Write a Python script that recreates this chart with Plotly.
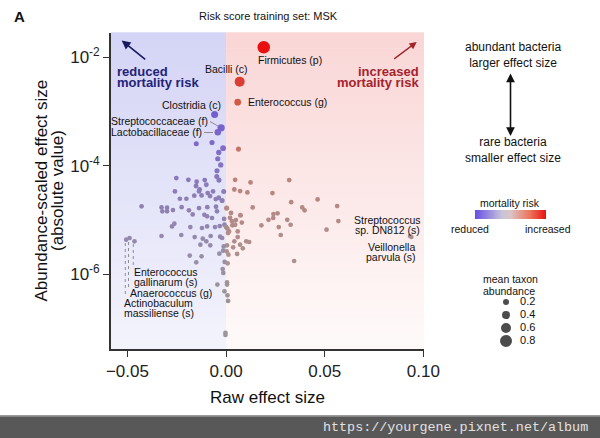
import numpy as np
import plotly.graph_objects as go

# ---------------- data ----------------
label_names = ["Firmicutes (p)", "Bacilli (c)", "Enterococcus (g)", "Clostridia (c)",
               "Streptococcaceae (f)", "Lactobacillaceae (f)", "Streptococcus sp. DN812 (s)",
               "Veillonella parvula (s)", "Enterococcus gallinarum (s)", "Anaerococcus (g)",
               "Actinobaculum massiliense (s)"]
label_x = [0.0191, 0.0069, 0.0059, -0.0058, -0.0025, -0.0042, 0.0932, 0.0939, -0.0464, -0.0489, -0.0506]
label_y = [1.53e-2, 3.56e-3, 1.49e-3, 8.81e-4, 5.01e-4, 4.17e-4, 5.08e-6, 4.86e-6, 4.05e-6, 4.67e-6, 4.35e-6]
label_abund = [0.80, 0.55, 0.22, 0.25, 0.28, 0.20, 0.01, 0.01, 0.02, 0.02, 0.02]

other_x = [-0.0151, -0.0071, -0.0015, 0.0063, -0.0037, -0.0042, -0.0027, -0.0046, -0.0047, -0.0036,
           -0.0252, -0.0191, -0.0149, -0.0108, 0.0046, 0.0124, 0.0320, -0.0259, -0.0152, -0.0134,
           -0.0137, -0.0100, -0.0093, -0.0066, -0.0012, 0.0042, 0.0071, 0.0108, 0.0235, -0.0161,
           -0.0234, -0.0201, -0.0124, -0.0081, -0.0052, -0.0037, -0.0020, 0.0464, 0.0330, -0.0428,
           -0.0327, -0.0299, -0.0269, -0.0323, -0.0299, -0.0225, -0.0188, -0.0169, -0.0137, -0.0095,
           -0.0051, -0.0046, 0.0003, -0.0110, -0.0096, -0.0071, 0.0073, 0.0135, 0.0240, 0.0239,
           0.0261, 0.0386, 0.0398, 0.0563, 0.0569, 0.0215, 0.0310, 0.0327, 0.0179, 0.0267,
           0.0509, 0.0277, -0.0274, -0.0262, -0.0327, -0.0227, -0.0181, -0.0159, -0.0122, -0.0096,
           -0.0056, -0.0032, -0.0008, 0.0000, 0.0007, 0.0015, 0.0032, 0.0046, 0.0010, -0.0078,
           -0.0030, -0.0020, 0.0059, 0.0059, 0.0042, 0.0102, 0.0117, 0.0071, 0.0085, 0.0036,
           0.0005, -0.0012, -0.0130, -0.0100, -0.0118, -0.0080, -0.0184, -0.0151, -0.0124, -0.0034,
           -0.0015, 0.0003, 0.0012, 0.0056, -0.0007, 0.0008, 0.0345, -0.0017, -0.0014, 0.0005,
           0.0005, -0.0044, -0.0008, 0.0007, 0.0010, -0.0003, -0.0003, 0.0020, 0.0030, -0.0010,
           0.0050, 0.0080, 0.0025]
other_y = [2.54e-4, 2.69e-4, 2.11e-4, 2.03e-4, 1.76e-4, 1.35e-4, 1.04e-4, 8.09e-5, 6.37e-5, 5.45e-5,
           5.93e-5, 5.52e-5, 5.08e-5, 5.45e-5, 5.52e-5, 4.93e-5, 5.45e-5, 3.37e-5, 4.23e-5, 3.66e-5,
           3.37e-5, 4.47e-5, 3.14e-5, 3.37e-5, 3.37e-5, 3.66e-5, 3.42e-5, 3.23e-5, 3.14e-5, 2.81e-5,
           2.47e-5, 2.47e-5, 2.84e-5, 2.77e-5, 2.44e-5, 2.58e-5, 2.30e-5, 2.40e-5, 2.14e-5, 1.79e-5,
           1.71e-5, 1.69e-5, 1.53e-5, 1.45e-5, 1.45e-5, 1.73e-5, 1.51e-5, 1.27e-5, 1.66e-5, 1.73e-5,
           1.76e-5, 1.45e-5, 1.66e-5, 1.25e-5, 1.17e-5, 1.09e-5, 1.22e-5, 1.71e-5, 1.29e-5, 1.09e-5,
           1.33e-5, 1.71e-5, 1.51e-5, 1.81e-5, 9.59e-6, 1.01e-5, 1.01e-5, 8.20e-6, 7.98e-6, 7.43e-6,
           6.64e-6, 5.30e-6, 7.64e-6, 8.57e-6, 5.08e-6, 5.30e-6, 7.43e-6, 4.86e-6, 7.13e-6, 7.64e-6,
           7.43e-6, 7.76e-6, 8.20e-6, 7.43e-6, 6.92e-6, 6.18e-6, 7.98e-6, 8.20e-6, 5.77e-6, 5.08e-6,
           4.93e-6, 4.67e-6, 6.18e-6, 4.86e-6, 4.05e-6, 4.05e-6, 3.94e-6, 3.52e-6, 3.01e-6, 3.14e-6,
           3.42e-6, 3.27e-6, 3.52e-6, 4.05e-6, 4.53e-6, 3.42e-6, 2.21e-6, 1.66e-6, 2.14e-6, 2.40e-6,
           2.73e-6, 2.65e-6, 2.30e-6, 2.37e-6, 1.69e-6, 1.59e-6, 1.76e-6, 1.25e-6, 1.06e-6, 7.13e-7,
           6.46e-7, 6.46e-7, 4.86e-7, 4.10e-7, 3.23e-7, 8.32e-8, 7.60e-8, 1.10e-5, 9.50e-6, 1.05e-5,
           1.00e-5, 9.00e-6, 1.35e-5]
other_abund = [0.05, 0.06, 0.12, 0.06, 0.08, 0.07, 0.08, 0.06, 0.05, 0.06,
               0.03, 0.03, 0.03, 0.03, 0.03, 0.03, 0.03, 0.03, 0.04, 0.04,
               0.03, 0.03, 0.04, 0.03, 0.05, 0.03, 0.03, 0.03, 0.02, 0.03,
               0.02, 0.02, 0.03, 0.03, 0.03, 0.04, 0.06, 0.02, 0.02, 0.02,
               0.02, 0.02, 0.02, 0.02, 0.02, 0.02, 0.02, 0.02, 0.03, 0.03,
               0.03, 0.03, 0.07, 0.02, 0.02, 0.02, 0.05, 0.02, 0.02, 0.02,
               0.02, 0.02, 0.02, 0.02, 0.02, 0.02, 0.02, 0.02, 0.02, 0.02,
               0.02, 0.02, 0.02, 0.02, 0.02, 0.02, 0.02, 0.02, 0.02, 0.02,
               0.02, 0.03, 0.04, 0.04, 0.03, 0.03, 0.03, 0.03, 0.03, 0.02,
               0.02, 0.02, 0.03, 0.03, 0.02, 0.02, 0.02, 0.02, 0.02, 0.02,
               0.02, 0.02, 0.02, 0.02, 0.02, 0.02, 0.02, 0.02, 0.02, 0.02,
               0.02, 0.02, 0.02, 0.02, 0.02, 0.02, 0.02, 0.02, 0.02, 0.02,
               0.02, 0.02, 0.02, 0.02, 0.02, 0.02, 0.02, 0.03, 0.03, 0.03,
               0.02, 0.02, 0.03]

size_legend_values = [0.2, 0.4, 0.6, 0.8]
risk_bar_levels = [i / 50 - 1 for i in range(101)]  # colour-key gradient steps, reduced -> increased
x_tick_vals = [-0.05, 0.0, 0.05, 0.10]
x_tick_text = ["\u22120.05", "0.00", "0.05", "0.10"]
y_tick_vals = [1e-6, 1e-4, 1e-2]
y_tick_text = ["10<sup>-6</sup>", "10<sup>-4</sup>", "10<sup>-2</sup>"]

# ---------------- geometry helpers ----------------
W, H = 600, 438
L, R, T, B = 111, 424, 33, 349
PW = W - L


def pxx(x):
    return (x - L) / PW


def pyy(y):
    return (B - y) / (B - T)


FONT = "Arial, Liberation Sans, Helvetica, sans-serif"

all_x = np.array(other_x + label_x)
all_y = np.array(other_y + label_y)
all_a = np.array(other_abund + label_abund)

t = np.clip((np.log10(all_y) + 6.5) / 4.7, 0, 1) ** 1.2
cval = np.sign(all_x) * t
sizes = 4.5 + 10 * all_a

point_scale = [[0.0, 'rgb(95,60,225)'], [0.15, 'rgb(115,92,208)'], [0.3, 'rgb(138,122,186)'],
               [0.45, 'rgb(152,144,166)'], [0.5, 'rgb(156,148,152)'], [0.55, 'rgb(170,146,146)'],
               [0.7, 'rgb(186,132,126)'], [0.85, 'rgb(208,100,80)'], [1.0, 'rgb(235,15,15)']]
bar_scale = [[0.0, 'rgb(105,80,228)'], [0.38, 'rgb(200,196,218)'], [0.5, 'rgb(218,196,196)'],
             [0.78, 'rgb(236,115,90)'], [1.0, 'rgb(232,20,20)']]

fig = go.Figure()

fig.add_trace(go.Scatter(
    x=all_x, y=all_y, mode="markers", hoverinfo="skip",
    marker=dict(size=sizes, color=cval, colorscale=point_scale, cmin=-1, cmax=1,
                line=dict(width=0), opacity=1, showscale=False),
    showlegend=False))

# colour key (mortality risk)
fig.add_trace(go.Heatmap(
    z=[risk_bar_levels], x=list(range(len(risk_bar_levels))), y=[0], xaxis="x3", yaxis="y3",
    colorscale=bar_scale, zmin=-1, zmax=1, showscale=False, hoverinfo="skip"))

# size legend
fig.add_trace(go.Scatter(
    x=[0.229] * 4, y=size_legend_values, xaxis="x2", yaxis="y2", mode="markers",
    marker=dict(size=[4 + 10 * v for v in size_legend_values], color="black", line=dict(width=0)),
    showlegend=False, hoverinfo="skip"))
fig.add_trace(go.Scatter(
    x=[0.43] * 4, y=size_legend_values, xaxis="x2", yaxis="y2", mode="text",
    text=[str(v) for v in size_legend_values], textposition="middle right",
    textfont=dict(size=11, color="#111", family=FONT), showlegend=False, hoverinfo="skip"))

# ---------------- background gradient ----------------
shapes = []
N = 40
for i in range(N):
    f = (i + 0.5) / N  # 0 bottom, 1 top
    b = (int(244 - 32 * f), int(244 - 32 * f), int(253 - 7 * f))
    r = (int(255 - 5 * f), int(251 - 37 * f), int(251 - 37 * f))
    shapes.append(dict(type="rect", xref="x", yref="paper", x0=-0.0583, x1=0.0,
                       y0=i / N * pyy(T), y1=(i + 1) / N * pyy(T) + 0.002,
                       fillcolor="rgb(%d,%d,%d)" % b, line=dict(width=0), layer="below"))
    shapes.append(dict(type="rect", xref="x", yref="paper", x0=0.0, x1=0.1003,
                       y0=i / N * pyy(T), y1=(i + 1) / N * pyy(T) + 0.002,
                       fillcolor="rgb(%d,%d,%d)" % r, line=dict(width=0), layer="below"))


def seg(x0, y0, x1, y1, color="#777", width=0.8, dash="solid"):
    shapes.append(dict(type="line", xref="paper", yref="paper", x0=pxx(x0), y0=pyy(y0),
                       x1=pxx(x1), y1=pyy(y1), line=dict(color=color, width=width, dash=dash)))


# leader lines
seg(210, 121.5, 218, 126)
seg(204, 132.5, 213, 132.5)
seg(125.3, 243, 125.3, 297, dash="dot", width=0.8)
seg(128.5, 242, 128.5, 288, dash="dot", width=0.8)
seg(133.3, 244, 133.3, 266, dash="dot", width=0.8)

# footer
shapes.append(dict(type="rect", xref="paper", yref="paper", x0=pxx(0), x1=pxx(600),
                   y0=pyy(438), y1=pyy(415.5), fillcolor="rgb(88,88,88)", line=dict(width=0)))
seg(0, 416, 600, 416, color="rgb(150,150,150)", width=1.5)

# ---------------- annotations ----------------
anns = []


def ann(text, x, y, size=10.5, xanchor="center", color="#111", bold=False, angle=0, yanchor="middle", family=FONT):
    anns.append(dict(text=("<b>%s</b>" % text) if bold else text, x=pxx(x), y=pyy(y), xref="paper",
                     yref="paper", showarrow=False, xanchor=xanchor, yanchor=yanchor,
                     textangle=angle, font=dict(size=size, color=color, family=family)))


ann("A", 19, 17, size=15, bold=True)
ann("Risk score training set: MSK", 268, 16, size=11)
ann("Abundance-scaled effect size", 40.5, 191, size=17, angle=-90)
ann("(absolute value)", 57, 191, size=17, angle=-90)
ann("Raw effect size", 267.5, 397, size=17)

ann("reduced", 115, 71.5, size=13, xanchor="left", bold=True, color="rgb(35,35,120)")
ann("mortality risk", 115, 83, size=13, xanchor="left", bold=True, color="rgb(35,35,120)")
ann("increased", 421, 71.5, size=13, xanchor="right", bold=True, color="rgb(165,35,45)")
ann("mortality risk", 421, 83, size=13, xanchor="right", bold=True, color="rgb(165,35,45)")

ann("Firmicutes (p)", 289.5, 59.5)
ann("Bacilli (c)", 226.7, 68.5)
ann("Enterococcus (g)", 245.5, 102.5, xanchor="left")
ann("Clostridia (c)", 191.2, 105)
ann("Streptococcaceae (f)", 209.5, 121, xanchor="right")
ann("Lactobacillaceae (f)", 203.8, 132.3, xanchor="right")
ann("Streptococcus", 422.5, 220, xanchor="right")
ann("sp. DN812 (s)", 422, 230, xanchor="right")
ann("Veillonella", 391, 246.7)
ann("parvula (s)", 391.3, 256.7)
ann("Enterococcus", 131.5, 271.7, xanchor="left")
ann("gallinarum (s)", 131.5, 281.7, xanchor="left")
ann("Anaerococcus (g)", 128.3, 293, xanchor="left")
ann("Actinobaculum", 122.3, 303.3, xanchor="left")
ann("massiliense (s)", 122.3, 313.3, xanchor="left")

ann("abundant bacteria<br>larger effect size", 513, 54.5, size=12)
ann("rare bacteria<br>smaller effect size", 513, 149.5, size=12)
ann("mortality risk", 509.5, 203, size=10.5)
ann("reduced", 469.5, 228.5, size=10.5)
ann("increased", 548.3, 228.5, size=10.5)
ann("mean taxon", 510, 279, size=10.5)
ann("abundance", 509, 290.7, size=10.5)

ann("https://yourgene.pixnet.net/album", 589.5, 427, size=13.4, xanchor="right",
    color="rgb(225,225,225)", family="Liberation Mono, DejaVu Sans Mono, monospace")

# arrows
anns.append(dict(x=pxx(121.7), y=pyy(40.5), xref="paper", yref="paper", ax=25, ay=20,
                 showarrow=True, arrowhead=2, arrowsize=1.1, arrowwidth=1.6,
                 arrowcolor="rgb(25,25,95)", text=""))
anns.append(dict(x=pxx(416.7), y=pyy(42), xref="paper", yref="paper", ax=-24, ay=18,
                 showarrow=True, arrowhead=2, arrowsize=1.1, arrowwidth=1.3,
                 arrowcolor="rgb(160,35,40)", text=""))
anns.append(dict(x=pxx(510.5), y=pyy(136), xref="paper", yref="paper", ax=0, ay=-64,
                 showarrow=True, arrowhead=2, startarrowhead=2, arrowside="end+start",
                 arrowsize=1.1, arrowwidth=1.6, arrowcolor="#111", text=""))

# ---------------- layout ----------------
fig.update_layout(
    width=W, height=H,
    margin=dict(l=L, r=0, t=T, b=H - B, pad=0, autoexpand=False),
    paper_bgcolor="white", plot_bgcolor="white",
    font=dict(family=FONT, color="#222"),
    showlegend=False,
    shapes=shapes, annotations=anns,
    xaxis=dict(domain=[0, (R - L) / PW], range=[-0.0583, 0.1003], tickvals=x_tick_vals,
               ticktext=x_tick_text, showgrid=False, zeroline=False, showline=True,
               linecolor="#333", linewidth=1.8, ticks="outside", ticklen=6, tickwidth=1.3,
               tickcolor="#333", tickfont=dict(size=17, color="#222", family=FONT),
               automargin=False, anchor="y"),
    yaxis=dict(type="log", range=[-7.377, -1.552], tickvals=y_tick_vals, ticktext=y_tick_text,
               showgrid=False, zeroline=False, showline=True, linecolor="#333", linewidth=1.8,
               ticks="outside", ticklen=6, tickwidth=1.3, tickcolor="#333",
               tickfont=dict(size=17, color="#222", family=FONT), automargin=False, anchor="x"),
    xaxis2=dict(domain=[pxx(490), pxx(560)], range=[0, 1], visible=False, anchor="y2"),
    yaxis2=dict(domain=[pyy(347.5), pyy(295.5)], range=[0.9, 0.1], visible=False, anchor="x2"),
    xaxis3=dict(domain=[pxx(475), pxx(546)], range=[-0.5, len(risk_bar_levels) - 0.5],
                visible=False, anchor="y3"),
    yaxis3=dict(domain=[pyy(219), pyy(210)], range=[-0.5, 0.5], visible=False, anchor="x3"),
)

fig.write_html("out.html", config={"displayModeBar": False},
               post_script="document.body.style.margin='0px';document.body.style.overflow='hidden';")
